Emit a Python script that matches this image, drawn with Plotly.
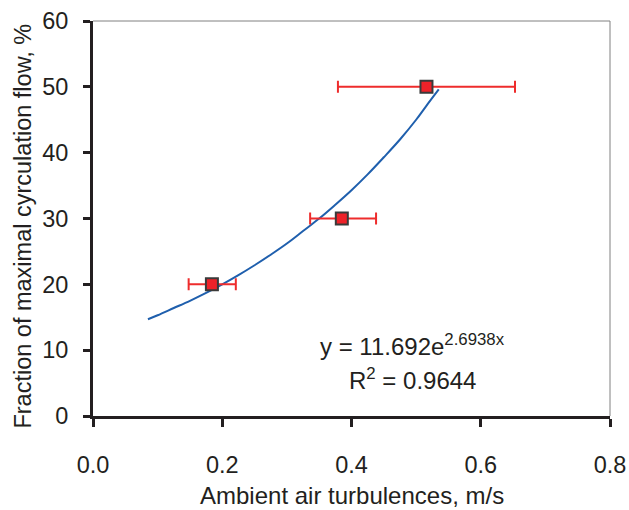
import plotly.graph_objects as go

# Measured data points
turb = [0.184, 0.385, 0.516]
frac = [20, 30, 50]
err_plus = [0.037, 0.053, 0.137]
err_minus = [0.036, 0.049, 0.137]

# Trendline
trend_x = [0.085, 0.10, 0.125, 0.15, 0.175, 0.20, 0.225, 0.25, 0.275, 0.30,
           0.325, 0.35, 0.375, 0.40, 0.425, 0.45, 0.475, 0.50, 0.515, 0.535]
trend_y = [14.7, 15.3, 16.4, 17.5, 18.7, 20.0, 21.4, 22.9, 24.5, 26.2,
           28.1, 30.0, 32.1, 34.3, 36.7, 39.3, 42.0, 45.0, 47.0, 49.6]

x_ticks = [0.0, 0.2, 0.4, 0.6, 0.8]
x_tick_text = ["0.0", "0.2", "0.4", "0.6", "0.8"]
y_ticks = [0, 10, 20, 30, 40, 50, 60]

FONT = "Arial, Liberation Sans, sans-serif"
TXT = "#231F20"

fig = go.Figure()
fig.add_trace(go.Scatter(
    x=trend_x, y=trend_y, mode="lines",
    line=dict(color="#1F5FAD", width=2, shape="spline"),
    hoverinfo="skip", showlegend=False))
fig.add_trace(go.Scatter(
    x=turb, y=frac, mode="markers",
    marker=dict(symbol="square", size=12, color="#EE2229",
                line=dict(color="#3A3A3A", width=2)),
    error_x=dict(type="data", array=err_plus, arrayminus=err_minus,
                 color="#EE2C2C", thickness=2, width=6),
    showlegend=False))

# frame (top and right thin grey)
fig.add_shape(type="line", xref="paper", yref="paper", x0=0, x1=1, y0=1, y1=1,
              line=dict(color="#808080", width=1))
fig.add_shape(type="line", xref="paper", yref="paper", x0=1, x1=1, y0=0, y1=1,
              line=dict(color="#808080", width=1))

fig.add_annotation(x=0.494, y=10.8, xref="x", yref="y", showarrow=False,
                   text="y = 11.692e<sup>2.6938x</sup>",
                   font=dict(family=FONT, size=24, color=TXT))
fig.add_annotation(x=0.494, y=5.6, xref="x", yref="y", showarrow=False,
                   text="R<sup>2</sup> = 0.9644",
                   font=dict(family=FONT, size=24, color=TXT))

fig.add_annotation(x=0.5, y=-0.2, xref="paper", yref="paper", showarrow=False,
                   text="Ambient air turbulences, m/s", yanchor="middle",
                   font=dict(family=FONT, size=24, color=TXT))
fig.add_annotation(x=-0.135, y=0.48, xref="paper", yref="paper", showarrow=False,
                   text="Fraction of maximal cyrculation flow, %", textangle=-90,
                   xanchor="center", yanchor="middle",
                   font=dict(family=FONT, size=23.5, color=TXT))

fig.update_layout(
    width=629, height=510,
    margin=dict(l=93, r=19, t=21, b=94),
    paper_bgcolor="white", plot_bgcolor="white",
    font=dict(family=FONT, size=23, color=TXT),
    xaxis=dict(range=[0, 0.8], tickvals=x_ticks, ticktext=x_tick_text,
               showgrid=False, zeroline=False, showline=True, automargin=False,
               linecolor="#231F20", linewidth=3, ticks="outside",
               ticklen=8, tickwidth=3, tickcolor="#231F20",
               ticklabelstandoff=18, tickfont=dict(size=23.5)),
    yaxis=dict(range=[0, 60], tickvals=y_ticks,
               showgrid=False, zeroline=False, showline=True, automargin=False,
               linecolor="#231F20", linewidth=3, ticks="outside",
               ticklen=7, tickwidth=3, tickcolor="#231F20",
               ticklabelstandoff=10, tickfont=dict(size=23.5)),
)

fig.write_html("out.html")
